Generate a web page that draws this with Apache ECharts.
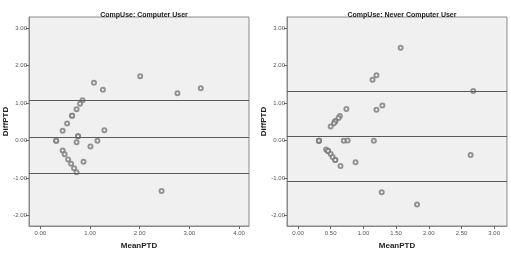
<!DOCTYPE html>
<html>
<head>
<meta charset="utf-8">
<script src="https://cdn.jsdelivr.net/npm/echarts@6/dist/echarts.min.js"></script>
<style>
  html, body { margin: 0; padding: 0; background: #fff; }
  #chart { width: 511px; height: 256px; }
</style>
</head>
<body>
<div id="chart"></div>
<script>
// panel titles
const titles = ["CompUse: Computer User", "CompUse: Never Computer User"];

// Computer User: [MeanPTD, DiffPTD]
const userPoints = [
  [1.08, 1.54], [1.26, 1.35], [2.01, 1.71], [2.76, 1.26], [3.23, 1.39],
  [0.85, 1.07], [0.80, 0.98], [0.73, 0.83], [0.64, 0.66], [0.64, 0.66],
  [0.54, 0.45], [0.45, 0.26], [1.29, 0.27], [0.76, 0.11], [0.76, 0.11],
  [0.32, -0.01], [0.32, -0.01], [0.73, -0.05], [1.15, -0.01], [1.01, -0.16],
  [0.45, -0.27], [0.49, -0.37], [0.56, -0.51], [0.62, -0.62], [0.87, -0.57],
  [0.68, -0.74], [0.73, -0.85], [2.44, -1.35]
];
const userLines = [1.06, 0.09, -0.87];

// Never Computer User: [MeanPTD, DiffPTD]
const neverPoints = [
  [1.57, 2.47], [1.14, 1.62], [1.20, 1.74], [2.68, 1.32], [0.74, 0.84],
  [1.20, 0.82], [1.29, 0.93], [0.64, 0.65], [0.62, 0.60], [0.57, 0.51],
  [0.57, 0.51], [0.55, 0.46], [0.50, 0.37], [0.32, -0.01], [0.32, -0.01],
  [0.32, -0.01], [0.70, -0.01], [0.76, 0.00], [1.16, -0.01], [0.43, -0.24],
  [0.46, -0.28], [0.46, -0.28], [0.50, -0.36], [0.53, -0.44], [0.57, -0.52],
  [0.57, -0.52], [0.65, -0.68], [0.88, -0.58], [1.28, -1.38], [1.82, -1.71],
  [2.64, -0.39]
];
const neverLines = [1.32, 0.11, -1.09];

const yTicks = [-2, -1, 0, 1, 2, 3];
const userXTicks = [0, 1, 2, 3, 4];
const neverXTicks = [0, 0.5, 1, 1.5, 2, 2.5, 3];

const font = "'Liberation Sans Narrow', 'Liberation Sans', Arial, sans-serif";
const tickLabel = { fontSize: 6, color: '#555', fontFamily: font, formatter: v => Number(v).toFixed(2) };
const nameStyle = { fontSize: 8, fontWeight: 'bold', color: '#222', fontFamily: font };

function xAxis(idx, min, max, ticks) {
  return {
    type: 'value', gridIndex: idx, min, max,
    name: 'MeanPTD', nameLocation: 'middle', nameGap: 16, nameTextStyle: nameStyle,
    splitLine: { show: false },
    axisLine: { show: true, onZero: false, lineStyle: { color: '#8a8a8a' } },
    axisTick: { show: true, length: 3, customValues: ticks, lineStyle: { color: '#666' } },
    axisLabel: Object.assign({ customValues: ticks, margin: 4 }, tickLabel)
  };
}
function yAxis(idx) {
  return {
    type: 'value', gridIndex: idx, min: -2.28, max: 3.29,
    name: 'DiffPTD', nameLocation: 'middle', nameGap: 15, nameRotate: 90, nameTextStyle: nameStyle,
    splitLine: { show: false },
    axisLine: { show: true, onZero: false, lineStyle: { color: '#8a8a8a' } },
    axisTick: { show: true, length: 3, customValues: yTicks, lineStyle: { color: '#666' } },
    axisLabel: Object.assign({ customValues: yTicks, margin: 2 }, tickLabel)
  };
}
function scatter(idx, data, lines) {
  return {
    type: 'scatter', xAxisIndex: idx, yAxisIndex: idx, data,
    symbol: 'emptyCircle', symbolSize: 4,
    itemStyle: { color: '#7a7a7a', borderWidth: 0.8 },
    silent: true, animation: false,
    markLine: {
      silent: true, symbol: 'none', animation: false,
      label: { show: false },
      lineStyle: { color: '#5a5a5a', width: 1, type: 'solid' },
      data: lines.map(v => ({ yAxis: v }))
    }
  };
}

const chart = echarts.init(document.getElementById('chart'), null, { renderer: 'canvas' });
chart.setOption({
  backgroundColor: '#fff',
  animation: false,
  title: [
    { text: titles[0], left: 139, top: 7, textAlign: 'center',
      textStyle: { fontSize: 7, fontWeight: 'bold', color: '#222', fontFamily: font } },
    { text: titles[1], left: 397, top: 7, textAlign: 'center',
      textStyle: { fontSize: 7, fontWeight: 'bold', color: '#222', fontFamily: font } }
  ],
  grid: [
    { left: 29, top: 17, width: 220, height: 209, show: true,
      backgroundColor: '#f0f0f0', borderColor: '#8a8a8a', borderWidth: 1 },
    { left: 287, top: 17, width: 220, height: 209, show: true,
      backgroundColor: '#f0f0f0', borderColor: '#8a8a8a', borderWidth: 1 }
  ],
  xAxis: [xAxis(0, -0.227, 4.2, userXTicks), xAxis(1, -0.168, 3.196, neverXTicks)],
  yAxis: [yAxis(0), yAxis(1)],
  series: [scatter(0, userPoints, userLines), scatter(1, neverPoints, neverLines)]
});
</script>
</body>
</html>
